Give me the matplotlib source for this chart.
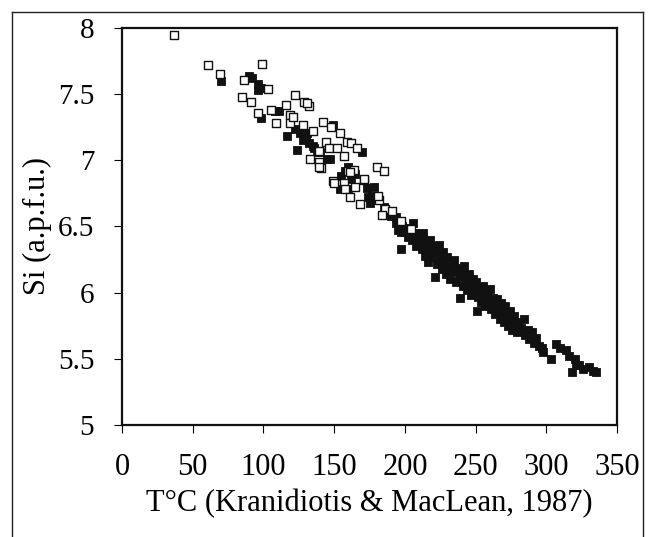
import matplotlib
matplotlib.use("Agg")
import matplotlib.pyplot as plt
from matplotlib.lines import Line2D

plt.rcParams['font.family'] = ['Liberation Serif', 'DejaVu Serif']

# open squares (T degC, Si apfu)
open_T = [37, 61, 69, 99, 86, 103, 85, 91, 96, 105, 109, 116, 122, 129, 132,
          119, 119, 121, 128, 135, 131, 142, 148, 154, 144, 146, 152, 159, 162,
          166, 157, 133, 139, 141, 139, 160, 164, 180, 185, 149, 157, 158, 165,
          171, 161, 168, 182, 150, 161, 171, 181, 186, 191, 184, 197, 204, 139]
open_Si = [7.95, 7.72, 7.65, 7.73, 7.61, 7.54, 7.48, 7.44, 7.36, 7.38, 7.28, 7.42, 7.49, 7.44, 7.41,
           7.34, 7.28, 7.33, 7.27, 7.22, 7.43, 7.29, 7.25, 7.21, 7.14, 7.09, 7.09, 7.14, 7.13,
           7.09, 7.03, 7.01, 6.99, 6.94, 6.95, 6.92, 6.93, 6.95, 6.92, 6.84, 6.83, 6.78, 6.80,
           6.85, 6.72, 6.67, 6.70, 6.83, 6.91, 6.86, 6.73, 6.63, 6.62, 6.59, 6.54, 6.48, 7.07]

# filled squares
fill_T = [70, 90, 92, 96, 96, 98, 98, 108, 111, 117, 124, 126, 122, 131, 135, 136,
          138, 140, 145, 147, 149, 155, 158, 154, 170, 173, 174, 175, 177, 178, 178,
          181, 187, 194, 195, 194, 197, 197, 201, 206, 213, 160, 165, 185, 190, 128,
          132, 130, 162, 160,
          198, 200, 202, 203, 205, 207, 208, 209, 210, 212, 213, 214, 215, 216, 217,
          218, 219, 220, 221, 222, 223, 224, 225, 226, 227, 228, 229, 230, 231, 232,
          233, 234, 235, 236, 237, 238, 239, 240, 241, 242, 243, 244, 245, 246, 247,
          248, 249, 250, 251, 252, 253, 254, 255, 256, 257, 258, 259, 260, 261, 262,
          263, 264, 265, 266, 267, 268, 269, 270, 271, 272, 273, 274, 275, 276, 277,
          278, 279, 280, 282, 284, 285, 287, 288, 290, 291, 293, 295, 297, 298, 303,
          307, 310, 314, 316, 318, 320, 321, 323, 326, 330, 333, 335]
fill_Si = [7.60, 7.64, 7.62, 7.58, 7.53, 7.55, 7.32, 7.37, 7.37, 7.18, 7.08, 7.21, 7.24, 7.21, 7.11, 7.09,
           7.06, 7.06, 7.01, 7.01, 7.27, 6.88, 6.92, 6.78, 7.06, 6.79, 6.72, 6.68, 6.73, 6.80, 6.70,
           6.73, 6.60, 6.53, 6.47, 6.57, 6.33, 6.46, 6.48, 6.53, 6.45, 6.95, 6.90, 6.65, 6.58, 7.15,
           7.13, 7.18, 6.86, 6.78,
           6.50, 6.46, 6.42, 6.49, 6.40, 6.45, 6.35, 6.43, 6.38, 6.33, 6.42, 6.28, 6.37, 6.23, 6.32,
           6.40, 6.27, 6.35, 6.12, 6.30, 6.22, 6.36, 6.26, 6.18, 6.31, 6.22, 6.14, 6.27, 6.20, 6.10,
           6.24, 6.16, 6.25, 6.08, 6.19, 6.12, 5.96, 6.15, 6.05, 6.20, 6.10, 6.02, 6.14, 6.06, 5.98,
           6.10, 6.02, 6.08, 5.86, 5.97, 6.03, 5.93, 6.05, 5.98, 5.90, 6.00, 5.94, 6.03, 5.88, 5.96,
           5.92, 5.84, 5.95, 5.88, 5.80, 5.92, 5.85, 5.78, 5.90, 5.82, 5.75, 5.86, 5.79, 5.72, 5.82,
           5.76, 5.70, 5.78, 5.73, 5.80, 5.68, 5.72, 5.65, 5.70, 5.62, 5.66, 5.60, 5.58, 5.55, 5.50,
           5.61, 5.58, 5.57, 5.52, 5.40, 5.50, 5.45, 5.45, 5.42, 5.44, 5.41, 5.40]

x_ticks = [0, 50, 100, 150, 200, 250, 300, 350]
y_ticks = [5, 5.5, 6, 6.5, 7, 7.5, 8]
y_tick_labels = ['5', '5.5', '6', '6.5', '7', '7.5', '8']

fig = plt.figure(figsize=(6.48, 5.37), dpi=100)
ax = fig.add_axes([0.1883, 0.2086, 0.7639, 0.7393])

ax.scatter(fill_T, fill_Si, marker='s', s=40, c='#111111', edgecolors='#111111',
           linewidths=0.6, zorder=3)
ax.scatter(open_T, open_Si, marker='s', s=38, facecolors='white', edgecolors='#111111',
           linewidths=1.0, zorder=4)

ax.set_xlim(0, 350)
ax.set_ylim(5, 8)
ax.set_xticks(x_ticks)
ax.set_yticks(y_ticks)
ax.set_yticklabels(y_tick_labels)
ax.tick_params(direction='out', length=6, width=0.8, pad=14, top=False, right=False)
ax.tick_params(axis='x', labelsize=22)
ax.tick_params(axis='y', labelsize=21)
for sp in ax.spines.values():
    sp.set_linewidth(1.6)
    sp.set_color('#111111')

ax.set_xlabel('T°C (Kranidiotis & MacLean, 1987)', fontsize=22)
ax.set_ylabel('Si (a.p.f.u.)', fontsize=22)
ax.xaxis.set_label_coords(0.5, -0.162)
ax.yaxis.set_label_coords(-0.142, 0.5)

# outer frame
fx0, fx1, fy1 = 12 / 648, 643 / 648, 1 - 12 / 537
for xs, ys in [([fx0, fx0], [0, fy1]), ([fx0, fx1], [fy1, fy1]), ([fx1, fx1], [fy1, 0])]:
    fig.add_artist(Line2D(xs, ys, transform=fig.transFigure, color='#222222', lw=1.0))

fig.savefig('out.png', dpi=100)
